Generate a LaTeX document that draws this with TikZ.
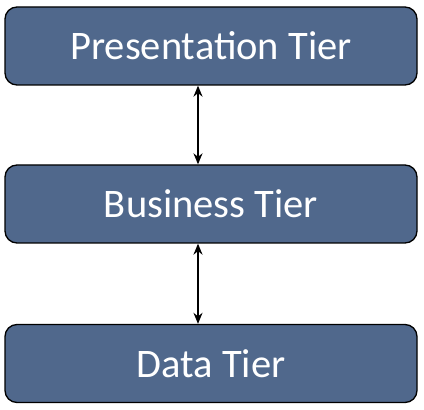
\documentclass[tikz,border=0pt]{standalone}
\usepackage{fontspec}
\setmainfont{Carlito}
\usetikzlibrary{arrows.meta}
\definecolor{tierblue}{HTML}{50688C}
\begin{document}
\begin{tikzpicture}[x=1pt,y=1pt,
  tier/.style={draw=black, line width=1.3pt, fill=tierblue, rounded corners=12pt,
    minimum width=412pt, minimum height=78pt, text=white, inner sep=0pt,
    font=\fontsize{40.5}{46}\selectfont},
  link/.style={{Stealth[length=11pt,width=9pt]}-{Stealth[length=11pt,width=9pt]}, line width=1.8pt}]
\useasboundingbox (0,0) rectangle (424,410);
\node[tier] (pres) at (211,364) {Presentation Tier};
\node[tier] (bus) at (211,206) {Business Tier};
\node[tier] (data) at (211,46.5) {Data Tier};
\draw[link] (pres.south -| 198,0) -- (bus.north -| 198,0);
\draw[link] (bus.south -| 198,0) -- (data.north -| 198,0);
\end{tikzpicture}
\end{document}
